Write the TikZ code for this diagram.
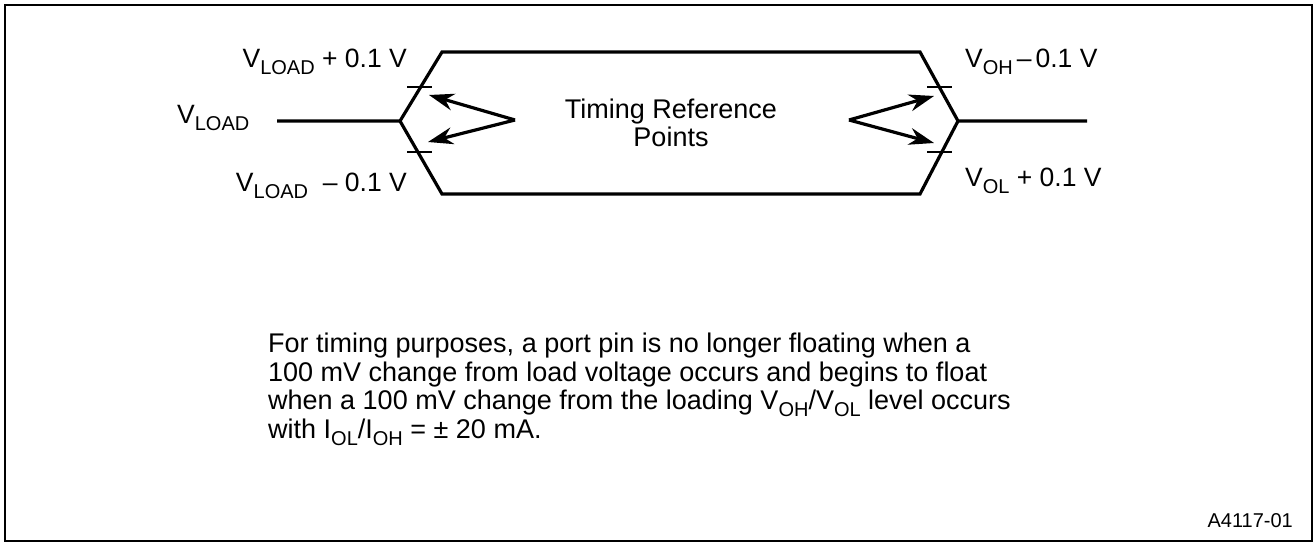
\documentclass[tikz,border=0pt]{standalone}
\usepackage{fontspec}
\setmainfont{Liberation Sans}
\usepackage{tikz}
\usetikzlibrary{arrows.meta,positioning,calc}
\definecolor{sigink}{HTML}{000000}
\newcommand{\vsub}[1]{\raisebox{-7pt}{\fontsize{20}{20}\selectfont #1}}

\begin{document}
\begin{tikzpicture}[x=1pt,y=-1pt,
    wave/.style={sigink,line width=3.2pt,line join=miter},
    tick/.style={sigink,line width=1.4pt},
    tref/.style={sigink,line width=3.2pt,-{Stealth[length=25pt,width=17pt]}},
    lbl/.style={inner sep=0pt,font=\fontsize{26.5}{28.5}\selectfont}]
        \useasboundingbox (0,0) rectangle (1316,545);
        \draw[sigink,line width=1.6pt] (5,5) rectangle (1312,541);
        % waveform corners
        \coordinate (lin) at (277,121);
        \coordinate (lk) at (400,121);
        \coordinate (tl) at (442,52);
        \coordinate (tr) at (920,52);
        \coordinate (bl) at (442,194);
        \coordinate (br) at (920,194);
        \coordinate (rk) at (958,121);
        \coordinate (rout) at (1087,121);
        \draw[wave] (lin) -- (lk) -- (tl) -- (tr) -- (rk) -- (rout);
        \draw[wave] (lk) -- (bl) -- (br) -- (rk);
        % 0.1 V marks
        \draw[tick] (407,87) -- (432,87);
        \draw[tick] (407,152) -- (432,152);
        \draw[tick] (927,87) -- (952,87);
        \draw[tick] (927,152) -- (952,152);
        % timing reference arrows
        \coordinate (lapex) at (515,120);
        \coordinate (lup) at (429,95);
        \coordinate (ldn) at (428,142);
        \coordinate (rapex) at (849,120);
        \coordinate (rup) at (934,96);
        \coordinate (rdn) at (934,143);
        \draw[tref] (lapex) -- (lup);
        \draw[tref] (lapex) -- (ldn);
        \draw[tref] (rapex) -- (rup);
        \draw[tref] (rapex) -- (rdn);
        % labels
        \node[lbl,anchor=base east] (vlp) at (407,68) {V\vsub{LOAD} + 0.1 V};
        \node[lbl,anchor=base west] (vld) at (177,124) {V\vsub{LOAD}};
        \node[lbl,anchor=base east] (vlm) at (407,192) {V\vsub{LOAD}\ \ -- 0.1 V};
        \node[lbl,anchor=base west] (voh) at (965,68) {V\vsub{OH}\kern4pt--\kern4pt0.1 V};
        \node[lbl,anchor=base west] (vol) at (965,187) {V\vsub{OL} + 0.1 V};
        \node[lbl,align=center,anchor=north,font=\fontsize{27}{28}\selectfont] (trp) at (671,99)
            {Timing Reference\\Points};
        \node[lbl,align=left,anchor=north west,font=\fontsize{27}{28.5}\selectfont] (note) at (268,333)
            {For timing purposes, a port pin is no longer floating when a\\
             100 mV change from load voltage occurs and begins to float\\
             when a 100 mV change from the loading V\vsub{OH}/V\vsub{OL} level occurs\\
             with I\vsub{OL}/I\vsub{OH} = ± 20 mA.};
        \node[inner sep=0pt,anchor=base east,font=\fontsize{20}{20}\selectfont] (fig) at (1293,527) {A4117-01};
      \end{tikzpicture}
\end{document}
